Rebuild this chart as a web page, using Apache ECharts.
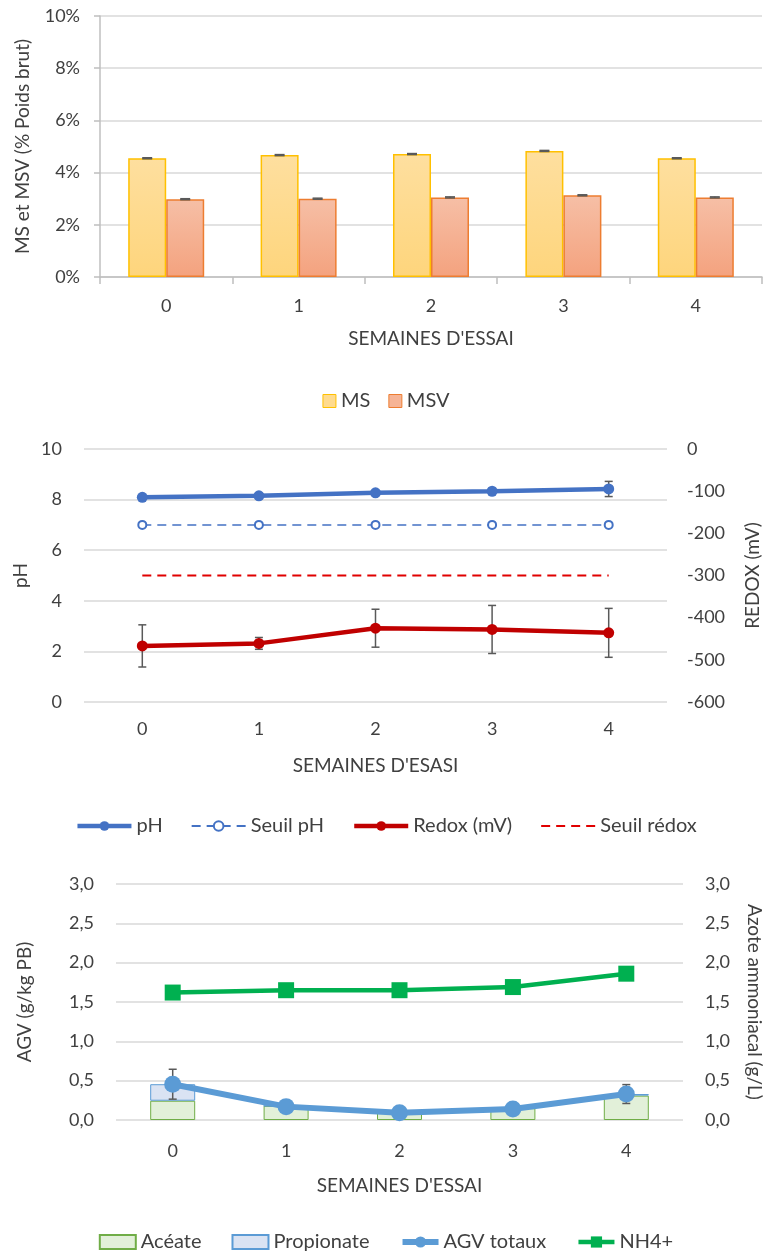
<!DOCTYPE html>
<html><head><meta charset="utf-8">
<script src="https://cdn.jsdelivr.net/npm/echarts@6/dist/echarts.min.js"></script>
<style>html,body{margin:0;padding:0;background:#fff}#c{width:772px;height:1251px}</style>
</head><body><div id="c"></div>
<script>
// ---- data ----
const weeks = ['0', '1', '2', '3', '4'];
// Chart 1 : MS / MSV (% poids brut)
const msVals  = [4.55, 4.67, 4.71, 4.83, 4.55];
const msErr   = [0.02, 0.02, 0.02, 0.02, 0.02];
const msvVals = [2.98, 3.00, 3.05, 3.13, 3.05];
const msvErr  = [0.02, 0.02, 0.02, 0.02, 0.02];
// Chart 2 : pH / Redox
const phVals     = [8.09, 8.15, 8.27, 8.33, 8.42];
const phErr      = [0.04, 0.04, 0.04, 0.04, 0.30];
const seuilPh    = [7, 7, 7, 7, 7];
const redoxVals  = [-467, -461, -425, -428, -436];
const redoxErr   = [50, 14, 45, 57, 58];
const seuilRedox = [-300, -300, -300, -300, -300];
// Chart 3 : AGV / NH4+
const aceVals  = [0.245, 0.18, 0.10, 0.15, 0.31];
const propVals = [0.21, 0.0, 0.0, 0.0, 0.02];
const agvVals  = [0.455, 0.17, 0.093, 0.14, 0.33];
const agvErr   = [0.19, 0.02, 0.02, 0.02, 0.12];
const nh4Vals  = [1.62, 1.65, 1.65, 1.69, 1.86];

// ---- styling helpers ----
const FONT = 'Lato';
const TXT = '#404040';
const GRIDC = '#D9D9D9';
const lab = (extra) => Object.assign({color: TXT, fontFamily: FONT, fontSize: 18}, extra || {});
const nameTxt = (extra) => Object.assign({color: TXT, fontFamily: FONT, fontSize: 19}, extra || {});
const legTxt = {color: TXT, fontFamily: FONT, fontSize: 20};
const comma = v => v.toFixed(1).replace('.', ',');

function errSeries(vals, errs, xi, yi, offset, cap, color, z) {
  return {
    type: 'custom', xAxisIndex: xi, yAxisIndex: yi, z: z || 3, silent: true,
    data: vals.map((v, i) => [i, v, errs[i]]),
    encode: {x: 0, y: 1},
    renderItem: function (params, api) {
      const i = api.value(0), v = api.value(1), e = api.value(2);
      const hi = api.coord([i, v + e]);
      const lo = api.coord([i, v - e]);
      const x = hi[0] + offset;
      const st = {stroke: color, lineWidth: 1.5};
      return {type: 'group', children: [
        {type: 'line', shape: {x1: x, y1: hi[1], x2: x, y2: lo[1]}, style: st},
        {type: 'line', shape: {x1: x - cap, y1: hi[1], x2: x + cap, y2: hi[1]}, style: st},
        {type: 'line', shape: {x1: x - cap, y1: lo[1], x2: x + cap, y2: lo[1]}, style: st}
      ]};
    }
  };
}
function vgrad(a, b) {
  return new echarts.graphic.LinearGradient(0, 0, 0, 1, [{offset: 0, color: a}, {offset: 1, color: b}]);
}

const chart = echarts.init(document.getElementById('c'), null, {renderer: 'canvas'});
const option = {
  animation: false,
  backgroundColor: '#fff',
  textStyle: {fontFamily: FONT},
  grid: [
    {left: 100, right: 10, top: 16, height: 261},
    {left: 84, right: 105, top: 449, height: 253},
    {left: 116, right: 87, top: 884, height: 236}
  ],
  legend: [
    {top: 386, left: 'center', itemWidth: 13, itemHeight: 13, itemGap: 18, textStyle: legTxt,
     data: [
       {name: 'MS', icon: 'rect', itemStyle: {color: '#FFDB8E', borderColor: '#FFC000', borderWidth: 1}},
       {name: 'MSV', icon: 'rect', itemStyle: {color: '#F6B496', borderColor: '#ED7D31', borderWidth: 1}}
     ]},
    {top: 811, left: 'center', itemWidth: 54, itemHeight: 12, itemGap: 28, textStyle: legTxt,
     data: [
       {name: 'pH', lineStyle: {width: 4.5}},
       {name: 'Seuil pH'},
       {name: 'Redox (mV)', lineStyle: {width: 4.5}},
       {name: 'Seuil rédox', itemStyle: {opacity: 0}}
     ]},
    {top: 1227, left: 'center', itemWidth: 36, itemHeight: 14, itemGap: 30, textStyle: legTxt,
     data: [
       {name: 'Acéate', icon: 'rect'},
       {name: 'Propionate', icon: 'rect'},
       {name: 'AGV totaux', lineStyle: {width: 6}},
       {name: 'NH4+', lineStyle: {width: 4.5}}
     ]}
  ],
  xAxis: [
    {type: 'category', gridIndex: 0, data: weeks,
     axisLine: {lineStyle: {color: '#BFBFBF', width: 1.5}},
     axisTick: {show: true, length: 7, lineStyle: {color: '#BFBFBF', width: 1.5}},
     axisLabel: lab({margin: 20}),
     name: "SEMAINES D'ESSAI", nameLocation: 'middle', nameGap: 52, nameTextStyle: nameTxt()},
    {type: 'category', gridIndex: 1, data: weeks,
     axisLine: {show: false}, axisTick: {show: false},
     axisLabel: lab({margin: 18}),
     name: "SEMAINES D'ESASI", nameLocation: 'middle', nameGap: 54, nameTextStyle: nameTxt()},
    {type: 'category', gridIndex: 2, data: weeks,
     axisLine: {show: false}, axisTick: {show: false},
     axisLabel: lab({margin: 22}),
     name: "SEMAINES D'ESSAI", nameLocation: 'middle', nameGap: 56, nameTextStyle: nameTxt()}
  ],
  yAxis: [
    {type: 'value', gridIndex: 0, min: 0, max: 10, interval: 2,
     axisLine: {show: true, lineStyle: {color: '#BFBFBF', width: 1.5}},
     axisTick: {show: true, length: 6, lineStyle: {color: '#BFBFBF', width: 1.5}},
     splitLine: {lineStyle: {color: GRIDC, width: 1.5}},
     axisLabel: lab({formatter: '{value}%', margin: 20}),
     name: 'MS et MSV (% Poids brut)', nameLocation: 'middle', nameGap: 68, nameRotate: 90, nameTextStyle: nameTxt()},
    {type: 'value', gridIndex: 1, min: 0, max: 10, interval: 2,
     axisLine: {show: false}, axisTick: {show: false},
     splitLine: {lineStyle: {color: GRIDC, width: 1.5}},
     axisLabel: lab({margin: 22}),
     name: 'pH', nameLocation: 'middle', nameGap: 52, nameRotate: 90, nameTextStyle: nameTxt()},
    {type: 'value', gridIndex: 1, position: 'right', min: -600, max: 0, interval: 100,
     axisLine: {show: false}, axisTick: {show: false}, splitLine: {show: false},
     axisLabel: lab({margin: 20}),
     name: 'REDOX (mV)', nameLocation: 'middle', nameGap: 76, nameRotate: 90, nameTextStyle: nameTxt()},
    {type: 'value', gridIndex: 2, min: 0, max: 3, interval: 0.5,
     axisLine: {show: false}, axisTick: {show: false},
     splitLine: {lineStyle: {color: GRIDC, width: 1.5}},
     axisLabel: lab({formatter: comma, margin: 22}),
     name: 'AGV (g/kg PB)', nameLocation: 'middle', nameGap: 82, nameRotate: 90, nameTextStyle: nameTxt()},
    {type: 'value', gridIndex: 2, position: 'right', min: 0, max: 3, interval: 0.5,
     axisLine: {show: false}, axisTick: {show: false}, splitLine: {show: false},
     axisLabel: lab({formatter: comma, margin: 22}),
     name: 'Azote ammoniacal (g/L)', nameLocation: 'middle', nameGap: 62, nameRotate: -90, nameTextStyle: nameTxt()}
  ],
  series: [
    // chart 1
    {name: 'MS', type: 'bar', xAxisIndex: 0, yAxisIndex: 0, data: msVals, barWidth: 38, barGap: '0%',
     itemStyle: {color: vgrad('#FEDF9F', '#FED57C'), borderColor: '#FFC000', borderWidth: 1.5}},
    {name: 'MSV', type: 'bar', xAxisIndex: 0, yAxisIndex: 0, data: msvVals, barWidth: 38, barGap: '0%',
     itemStyle: {color: vgrad('#F6BFA6', '#F4A27E'), borderColor: '#ED7D31', borderWidth: 1.5}},
    errSeries(msVals, msErr, 0, 0, -19, 5, '#595959', 5),
    errSeries(msvVals, msvErr, 0, 0, 19, 5, '#595959', 5),
    // chart 2
    errSeries(phVals, phErr, 1, 1, 0, 4, '#595959', 1),
    errSeries(redoxVals, redoxErr, 1, 2, 0, 4, '#595959', 1),
    {name: 'pH', type: 'line', xAxisIndex: 1, yAxisIndex: 1, data: phVals, z: 4,
     symbol: 'circle', symbolSize: 11, lineStyle: {color: '#4472C4', width: 4.5},
     itemStyle: {color: '#4472C4'}},
    {name: 'Seuil pH', type: 'line', xAxisIndex: 1, yAxisIndex: 1, data: seuilPh, z: 3,
     symbol: 'emptyCircle', symbolSize: 8, lineStyle: {color: '#4472C4', width: 1.5, type: [9, 6]},
     itemStyle: {color: '#4472C4', borderWidth: 1.5}},
    {name: 'Redox (mV)', type: 'line', xAxisIndex: 1, yAxisIndex: 2, data: redoxVals, z: 4,
     symbol: 'circle', symbolSize: 11, lineStyle: {color: '#C00000', width: 4.5},
     itemStyle: {color: '#C00000'}},
    {name: 'Seuil rédox', type: 'line', xAxisIndex: 1, yAxisIndex: 2, data: seuilRedox, z: 3,
     symbol: 'none', lineStyle: {color: '#E00000', width: 2, type: [9, 6]},
     itemStyle: {color: '#E00000'}},
    // chart 3
    {name: 'Acéate', type: 'bar', stack: 'agv', xAxisIndex: 2, yAxisIndex: 3, data: aceVals, barWidth: 45,
     itemStyle: {color: '#E2F0D9', borderColor: '#70AD47', borderWidth: 1}},
    {name: 'Propionate', type: 'bar', stack: 'agv', xAxisIndex: 2, yAxisIndex: 3, data: propVals, barWidth: 45,
     itemStyle: {color: '#DAE3F3', borderColor: '#5B9BD5', borderWidth: 1}},
    errSeries(agvVals, agvErr, 2, 3, 0, 4, '#595959', 3),
    {name: 'AGV totaux', type: 'line', xAxisIndex: 2, yAxisIndex: 3, data: agvVals, z: 4,
     symbol: 'circle', symbolSize: 17, lineStyle: {color: '#5B9BD5', width: 6},
     itemStyle: {color: '#5B9BD5'}},
    {name: 'NH4+', type: 'line', xAxisIndex: 2, yAxisIndex: 4, data: nh4Vals, z: 4,
     symbol: 'rect', symbolSize: 16, lineStyle: {color: '#00B050', width: 4.5},
     itemStyle: {color: '#00B050'}}
  ]
};
chart.setOption(option);
</script>
</body></html>
